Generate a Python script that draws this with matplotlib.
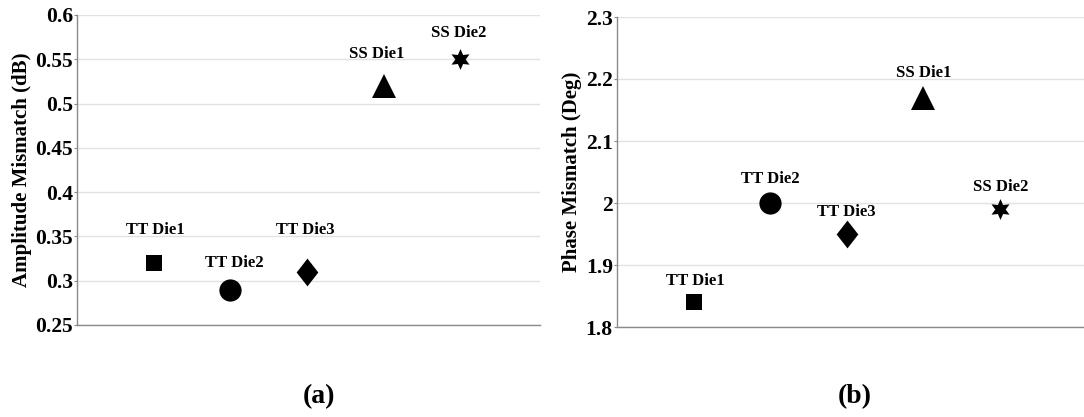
import numpy as np
import matplotlib.pyplot as plt
from matplotlib.ticker import FormatStrFormatter, MultipleLocator

plt.rcParams['font.family'] = ['Liberation Serif', 'DejaVu Serif']
plt.rcParams['font.weight'] = 'bold'

# ##### DATA ######
dies = ['TT Die1', 'TT Die2', 'TT Die3', 'SS Die1', 'SS Die2']
amp_mismatch = [0.32, 0.29, 0.31, 0.52, 0.55]      # dB
phase_mismatch = [1.84, 2.00, 1.95, 2.17, 1.99]    # deg

# ##### STYLE ######
# one marker per die: square, circle, diamond, triangle, six-point star
diamond = [(0, 1), (0.78, 0), (0, -1), (-0.78, 0), (0, 1)]
markers = ['s', 'o', diamond, '^', (6, 1, 0)]
msizes = [12, 16, 20, 17, 15]
# label offsets above each marker (points)
amp_offsets = [(1, 24), (3, 19), (-1, 30), (-5, 23), (-1, 19)]
phase_offsets = [(1, 15), (0, 17), (0, 16), (0, 18), (1, 16)]

fig = plt.figure(figsize=(10.84, 4.17), dpi=100)
ax_a = fig.add_axes([77/1084, 1 - 325/417, 463/1084, 310/417])
ax_b = fig.add_axes([617/1084, 1 - 327/417, 467/1084, 310/417])


def draw_panel(ax, values, offsets, ylim, step, ylabel, xmax, labelpad):
    x = np.arange(1, len(values) + 1)
    for xi, yi, name, m, ms, off in zip(x, values, dies, markers, msizes, offsets):
        ax.plot(xi, yi, linestyle='none', marker=m, markersize=ms,
                color='black', markeredgewidth=0)
        ax.annotate(name, (xi, yi), xytext=off, textcoords='offset points',
                    ha='center', va='center', fontsize=12, fontweight='bold')
    ax.set_xlim(0, xmax)
    ax.set_ylim(*ylim)
    ax.yaxis.set_major_locator(MultipleLocator(step))
    ax.yaxis.set_major_formatter(FormatStrFormatter('%g'))
    ax.set_xticks([])
    ax.grid(axis='y', color='#e2e2e2', linewidth=1)
    ax.set_axisbelow(True)
    for s in ['top', 'right']:
        ax.spines[s].set_visible(False)
    for s in ['left', 'bottom']:
        ax.spines[s].set_color('#8a8a8a')
        ax.spines[s].set_linewidth(1)
    ax.tick_params(axis='y', length=2, color='#8a8a8a', labelsize=15.5, pad=1)
    for lbl in ax.get_yticklabels():
        lbl.set_fontweight('bold')
    ax.set_ylabel(ylabel, fontsize=15, fontweight='bold', labelpad=labelpad)


draw_panel(ax_a, amp_mismatch, amp_offsets, (0.25, 0.6), 0.05,
           'Amplitude Mismatch (dB)', 6.04, 2)
draw_panel(ax_b, phase_mismatch, phase_offsets, (1.8, 2.3), 0.1,
           'Phase Mismatch (Deg)', 6.1, 2.5)

fig.text(319/1084, 1 - 397/417, '(a)', ha='center', va='center',
         fontsize=20, fontweight='bold')
fig.text(855/1084, 1 - 397/417, '(b)', ha='center', va='center',
         fontsize=20, fontweight='bold')

plt.savefig('out.png', dpi=100)
plt.close()
